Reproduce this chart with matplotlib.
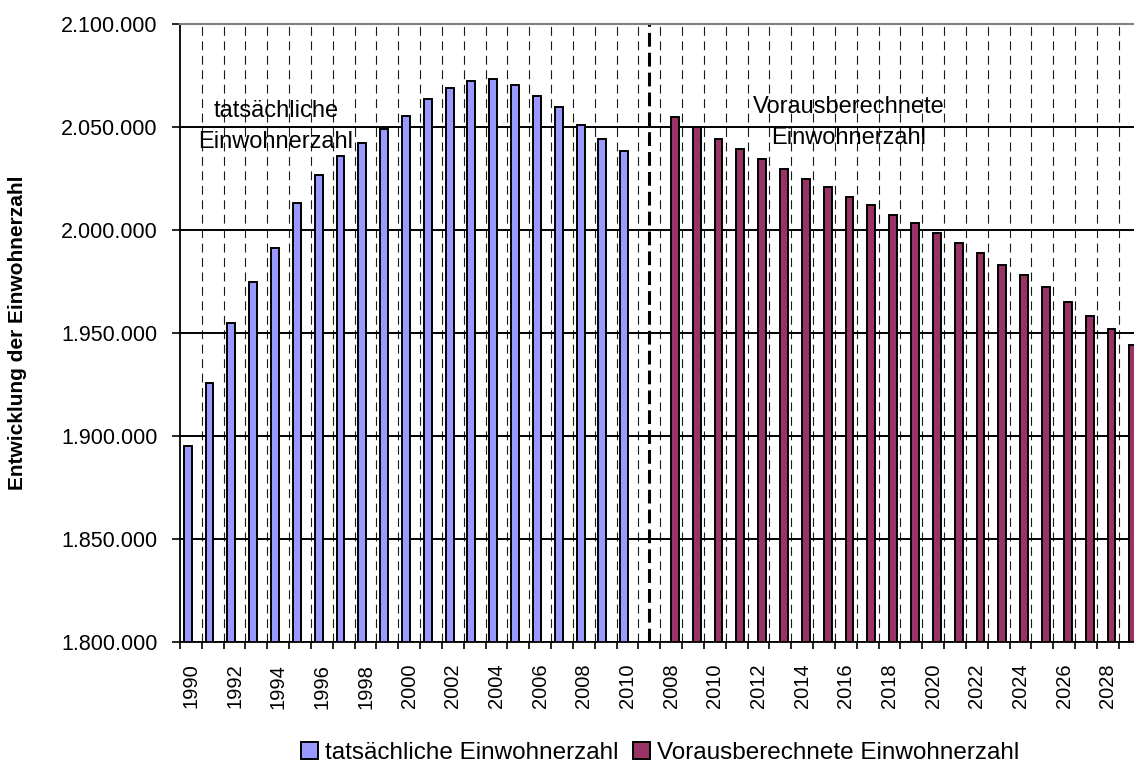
import matplotlib
matplotlib.use("Agg")
import matplotlib.pyplot as plt
from matplotlib.ticker import FuncFormatter, FixedLocator
import numpy as np

plt.rcParams['font.family'] = ['Liberation Sans', 'DejaVu Sans']

# data
years_actual = [1990, 1991, 1992, 1993, 1994, 1995, 1996, 1997, 1998, 1999, 2000,
                2001, 2002, 2003, 2004, 2005, 2006, 2007, 2008, 2009, 2010]
values_actual = [1895100, 1925400, 1954600, 1974800, 1991300, 2012900, 2026500,
                 2036000, 2042000, 2048800, 2055400, 2063400, 2069000, 2072100,
                 2073100, 2070200, 2065200, 2059500, 2050800, 2044100, 2038100]

years_proj = [2008, 2009, 2010, 2011, 2012, 2013, 2014, 2015, 2016, 2017, 2018,
              2019, 2020, 2021, 2022, 2023, 2024, 2025, 2026, 2027, 2028, 2029]
values_proj = [2054700, 2049800, 2044100, 2039300, 2034300, 2029400, 2024500,
               2020800, 2015800, 2012100, 2007000, 2003300, 1998300, 1993400,
               1988600, 1982800, 1977900, 1972100, 1965100, 1958300, 1951700,
               1943900]

label_actual = 'tatsächliche Einwohnerzahl'
label_proj = 'Vorausberechnete Einwohnerzahl'
ylabel = 'Entwicklung der Einwohnerzahl'

# category axis: actual years, one empty slot, projected years
categories = [str(y) for y in years_actual] + [''] + [str(y) for y in years_proj]
n_cat = len(categories)
x_actual = np.arange(len(years_actual))
gap_pos = len(years_actual)
x_proj = np.arange(len(years_proj)) + gap_pos + 1

fig = plt.figure(figsize=(11.34, 7.65), dpi=100)
ax = fig.add_axes([180 / 1134, 123.5 / 765, 960.5 / 1134, 617.5 / 765])

w = 0.36
ax.bar(x_actual - w / 2 + 0.03, values_actual, width=w, color='#9999FF',
       edgecolor='black', linewidth=1.4, label=label_actual, zorder=3)
ax.bar(x_proj + w / 2 - 0.01, values_proj, width=w, color='#993366',
       edgecolor='black', linewidth=1.4, label=label_proj, zorder=3)

ax.set_xlim(-0.5, n_cat - 0.5)
ax.set_ylim(1800000, 2100000)

# horizontal grid
ax.set_yticks(np.arange(1800000, 2100001, 50000))
ax.yaxis.set_major_formatter(FuncFormatter(lambda v, p: f"{v:,.0f}".replace(",", ".")))
ax.grid(axis='y', color='black', linewidth=1.4, zorder=1)

# category boundaries: ticks + dashed vertical lines
bounds = np.arange(n_cat + 1) - 0.5
ax.xaxis.set_major_locator(FixedLocator(bounds))
ax.xaxis.set_major_formatter(FuncFormatter(lambda v, p: ''))
for b in bounds[1:-1]:
    ax.axvline(b, color='#1a1a1a', linewidth=0.8, linestyle=(0, (8, 5)), zorder=1)

centers = np.arange(n_cat)
ax.set_xticks(centers[::2], [categories[i] for i in centers[::2]], minor=True)
ax.tick_params(axis='x', which='minor', length=0, pad=16, labelsize=14.5, rotation=90)
ax.tick_params(axis='x', which='major', length=5, width=1.2, direction='out')
ax.tick_params(axis='y', length=6, width=1.2, pad=10, labelsize=15.5)

# separator between actual and projected
ax.axvline(gap_pos, color='black', linewidth=2.2, linestyle=(0, (4.5, 2)), zorder=4)

for s in ['left', 'bottom']:
    ax.spines[s].set_linewidth(1.3)
    ax.spines[s].set_zorder(5)
ax.spines['top'].set_color('#808080')
ax.spines['top'].set_linewidth(1.5)
ax.spines['top'].set_zorder(5)
ax.spines['right'].set_visible(False)

ax.set_ylabel(ylabel, fontsize=15, fontweight='bold')
ax.yaxis.set_label_coords(-0.159, 0.5)

# section labels
ax.text(0.1, 0.850, 'tatsächliche', transform=ax.transAxes, ha='center',
        va='baseline', fontsize=17)
ax.text(0.1, 0.799, 'Einwohnerzahl', transform=ax.transAxes, ha='center',
        va='baseline', fontsize=17)
ax.text(0.6965, 0.856, 'Vorausberechnete', transform=ax.transAxes, ha='center',
        va='baseline', fontsize=17)
ax.text(0.6965, 0.806, 'Einwohnerzahl', transform=ax.transAxes, ha='center',
        va='baseline', fontsize=17)

ax.legend(loc='center', bbox_to_anchor=(0.5, -0.18), ncol=2, frameon=False,
          fontsize=17.5, handlelength=0.7, handleheight=0.7, handletextpad=0.3,
          columnspacing=0.6)

fig.savefig('out.png', dpi=100)
